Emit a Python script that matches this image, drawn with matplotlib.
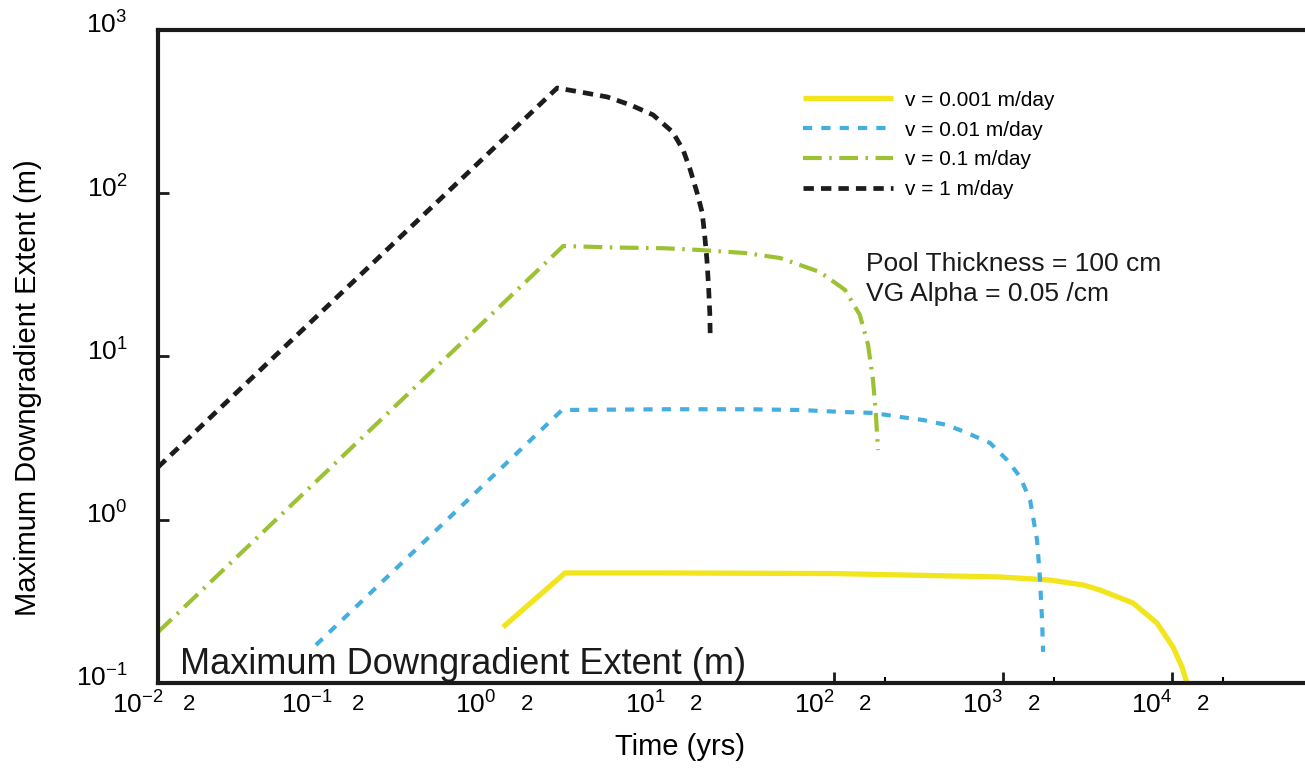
import numpy as np
import matplotlib
matplotlib.use("Agg")
import matplotlib.pyplot as plt
from matplotlib.ticker import LogLocator, FuncFormatter, NullLocator
from matplotlib.transforms import ScaledTranslation

plt.rcParams['font.family'] = ['Liberation Sans', 'DejaVu Sans']
plt.rcParams['mathtext.fontset'] = 'custom'
plt.rcParams['mathtext.rm'] = 'Liberation Sans'

# values (time in yrs, extent in m)
t_v1 = [0.01, 2.30, 3.14, 4.54, 6.21, 8.49, 11.1, 12.8, 14.1, 15.5, 16.6, 17.2, 17.7, 18.1, 18.4, 18.5]
d_v1 = [2.1, 441, 417, 389, 348, 302, 237, 184, 139, 100, 76, 54, 39, 26.7, 18.5, 13.9]

t_v01 = [0.01, 2.5, 5.0, 10.0, 16.1, 30.0, 47.9, 82.6, 116, 142, 159, 170, 177, 182]
d_v01 = [0.205, 47.5, 46.5, 46.0, 44.9, 43.0, 40.1, 32.9, 25.6, 18.0, 11.8, 7.2, 4.4, 2.67]

t_v001 = [0.05, 2.46, 10, 30, 63, 113, 170, 246, 337, 467, 613, 838, 1057, 1262, 1446, 1590, 1656, 1702, 1726]
d_v001 = [0.1, 4.7, 4.75, 4.75, 4.70, 4.57, 4.51, 4.26, 4.08, 3.80, 3.40, 2.95, 2.32, 1.83, 1.32, 0.75, 0.43, 0.243, 0.155]

t_v0001 = [1.1, 2.56, 10, 100, 959, 1897, 3000, 3750, 5875, 8150, 10140, 11460, 12270]
d_v0001 = [0.22, 0.472, 0.472, 0.468, 0.446, 0.427, 0.398, 0.371, 0.309, 0.233, 0.166, 0.125, 0.1]

labels = ['v = 0.001 m/day', 'v = 0.01 m/day', 'v = 0.1 m/day', 'v = 1 m/day']

fig = plt.figure(figsize=(13.05, 7.74), dpi=100)
ax = fig.add_axes([0.1211, 0.1176, 0.8828, 0.8437])

ax.plot(t_v0001, d_v0001, color='#f2e51e', lw=3.8, solid_capstyle='butt', label=labels[0])
ax.plot(t_v001, d_v001, color='#45aee0', lw=3.0, dashes=(2.2, 2.2), label=labels[1])
ax.plot(t_v01, d_v01, color='#9cc234', lw=3.0, dashes=(4.5, 1.8, 0.6, 1.8), label=labels[2])
ax.plot(t_v1, d_v1, color='#1c1c1c', lw=3.4, dashes=(2.2, 1.5), label=labels[3])

ax.set_xscale('log')
ax.set_yscale('log')
ax.set_xlim(1e-2, 10 ** 4.817)
ax.set_ylim(1e-1, 1e3)

ax.xaxis.set_major_locator(LogLocator(base=10, numticks=20))
ax.xaxis.set_minor_locator(LogLocator(base=10, subs=(2.0,), numticks=20))
ax.xaxis.set_minor_formatter(FuncFormatter(lambda v, p: '2'))
ax.yaxis.set_major_locator(LogLocator(base=10, numticks=20))
ax.yaxis.set_minor_locator(NullLocator())

for s in ['left', 'bottom', 'top']:
    ax.spines[s].set_linewidth(3.0)
    ax.spines[s].set_color('#1a1a1a')
    ax.spines[s].set_zorder(5)
ax.spines['right'].set_visible(False)

ax.tick_params(axis='both', which='major', direction='in', length=8, width=2,
               top=False, right=False, color='#1a1a1a')
ax.tick_params(axis='x', which='major', labelsize=19, pad=6)
ax.tick_params(axis='x', which='minor', direction='in', length=4, width=1.5,
               labelsize=16, pad=8, top=False)
ax.tick_params(axis='y', which='major', labelsize=19, pad=22)

ax.set_xlabel('Time (yrs)', fontsize=21)
ax.xaxis.set_label_coords((680 - 158) / 1152, (683 - 733) / 653)
ax.set_ylabel('Maximum Downgradient Extent (m)', fontsize=21)
ax.yaxis.set_label_coords((42 - 158) / 1152, (683 - 388) / 653)

ax.text(0.019, 0.013, 'Maximum Downgradient Extent (m)', transform=ax.transAxes,
        fontsize=26, ha='left', va='baseline', color='#1a1a1a', zorder=3,
        bbox=dict(facecolor='white', edgecolor='none', pad=0.5))

ax.text(0.6146, (683 - 252) / 653, 'Pool Thickness = 100 cm\nVG Alpha = 0.05 /cm',
        transform=ax.transAxes, fontsize=19, ha='left', va='top',
        linespacing=1.3, color='#1a1a1a')

ax.legend(loc='upper left', bbox_to_anchor=(0.56, 0.907), frameon=False,
          fontsize=15, handlelength=4.3, handletextpad=0.6, labelspacing=0.52,
          borderpad=0, borderaxespad=0)

# scanned labels sit a bit off their ticks
fig.canvas.draw()
shift_x = ScaledTranslation(-0.20, 0, fig.dpi_scale_trans)
for lab in ax.get_xticklabels(which='both'):
    lab.set_transform(lab.get_transform() + shift_x)
shift_y = ScaledTranslation(0, 0.07, fig.dpi_scale_trans)
for lab in ax.get_yticklabels():
    lab.set_transform(lab.get_transform() + shift_y)

fig.savefig('out.png', dpi=100)
